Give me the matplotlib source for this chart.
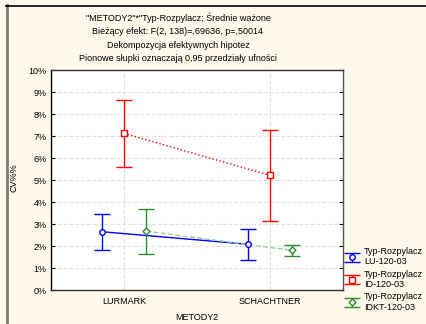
import matplotlib
matplotlib.use("Agg")
import matplotlib.pyplot as plt
from matplotlib.lines import Line2D
import numpy as np

plt.rcParams['font.family'] = ['Liberation Sans', 'DejaVu Sans']

# data (CV in %)
categories = ['LURMARK', 'SCHACHTNER']
series_names = ['Typ-Rozpylacz\nLU-120-03', 'Typ-Rozpylacz\nID-120-03', 'Typ-Rozpylacz\nIDKT-120-03']
lu_mean = [2.65, 2.08]
lu_low = [1.83, 1.36]
lu_high = [3.44, 2.76]
id_mean = [7.12, 5.21]
id_low = [5.58, 3.14]
id_high = [8.65, 7.27]
idkt_mean = [2.68, 1.80]
idkt_low = [1.62, 1.53]
idkt_high = [3.70, 2.06]

fs = 6.5
bg = '#FFF9EC'
fig = plt.figure(figsize=(4.26, 3.24), dpi=100, facecolor=bg)
ax = fig.add_axes([51/426, 34/324, 292/426, 220/324])
ax.set_facecolor('white')

x = np.arange(len(categories))
off = 22 / 145.0

styles = [
    (lu_mean, lu_low, lu_high, -off, 'blue', 'blue', '-', 'o'),
    (id_mean, id_low, id_high, 0.0, 'red', 'red', ':', 's'),
    (idkt_mean, idkt_low, idkt_high, off, '#2E8B2E', '#9CCB9C', '--', 'D'),
]
handles = []
for (m, lo, hi, dx, c, lc, ls, mk), name in zip(styles, series_names):
    m = np.array(m)
    err = [m - np.array(lo), np.array(hi) - m]
    ax.plot(x + dx, m, color=lc, linestyle=ls, linewidth=1.0, zorder=2)
    h = ax.errorbar(x + dx, m, yerr=err, fmt=mk, color=c, ecolor=c,
                    markerfacecolor='white', markeredgecolor=c,
                    markersize=4 if mk != 'D' else 3.5, elinewidth=1.0,
                    capsize=6, capthick=1.0, linestyle=ls, linewidth=1.0,
                    zorder=3, label=name)
    h.lines[0].set_linestyle('none')
    handles.append(h)

ax.set_xlim(-0.5, 1.5)
ax.set_ylim(0, 10)
ax.set_xticks(x)
ax.set_xticklabels(categories, fontsize=fs)
ax.set_yticks(np.arange(0, 11, 1))
ax.set_yticklabels([f'{v}%' for v in range(11)], fontsize=fs)
ax.tick_params(axis='x', length=0, pad=5)
ax.tick_params(axis='y', length=0, pad=3)
ax.tick_params(axis='y', which='both', right=True, direction='in', length=3)
ax.grid(True, color='#E0E0E0', linestyle='--', linewidth=0.8)
ax.set_axisbelow(True)
for s in ax.spines.values():
    s.set_linewidth(1.0)
ax.spines['left'].set_color('black')
ax.spines['bottom'].set_color('#333333')
ax.spines['top'].set_color('#333333')
ax.spines['right'].set_color('#555555')

ax.set_xlabel('METODY2', fontsize=fs, labelpad=5)
ax.set_ylabel('CV%%', fontsize=fs)
ax.yaxis.set_label_coords(-0.113, 0.51)

titles = ['"METODY2"*"Typ-Rozpylacz; Średnie ważone',
          'Bieżący efekt: F(2, 138)=,69636, p=,50014',
          'Dekompozycja efektywnych hipotez',
          'Pionowe słupki oznaczają 0,95 przedziały ufności']
for i, t in enumerate(titles):
    fig.text(178/426, 1 - (18 + 13.6*i)/324, t, ha='center', va='center', fontsize=fs)

leg = fig.legend(handles=handles, loc='upper left', bbox_to_anchor=(345/426, 1 - 247/324),
                 fontsize=fs, frameon=False, labelspacing=0.35, handlelength=1.6,
                 handletextpad=0.5, borderaxespad=0, borderpad=0)

# outer frame of the graph window
fig.add_artist(Line2D([6.5/426, 6.5/426], [0, 1 - 5/324], transform=fig.transFigure,
                      color='#777777', linewidth=2))
fig.add_artist(Line2D([6/426, 1], [1 - 6/324, 1 - 6/324], transform=fig.transFigure,
                      color='black', linewidth=1.2))

fig.savefig('out.png', dpi=100, facecolor=bg)
